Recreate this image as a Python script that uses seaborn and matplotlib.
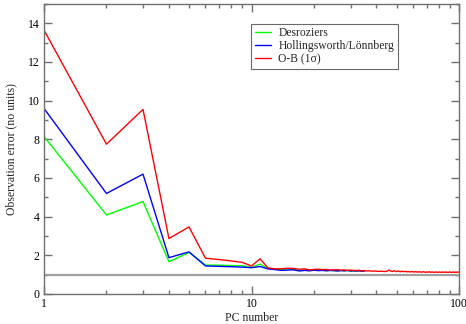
import numpy as np
import pandas as pd
import seaborn as sns
import matplotlib
matplotlib.use("Agg")
import matplotlib.pyplot as plt
from matplotlib.ticker import MultipleLocator, LogLocator, NullFormatter, FixedLocator, FixedFormatter

# Observation error estimates per principal component
ob_sigma = [13.65, 7.75, 9.55, 2.87, 3.47, 1.85, 1.78, 1.71, 1.64, 1.45,
            1.82, 1.35, 1.30, 1.31, 1.33, 1.32, 1.28, 1.30, 1.25, 1.27,
            1.28, 1.26, 1.27, 1.24, 1.25, 1.26, 1.23, 1.25, 1.22, 1.24,
            1.22, 1.21, 1.23, 1.20, 1.21, 1.19, 1.20, 1.18, 1.19, 1.18,
            1.17, 1.18, 1.17, 1.16, 1.18, 1.24, 1.18, 1.17, 1.20, 1.16,
            1.19, 1.15, 1.18, 1.16, 1.17, 1.15, 1.16, 1.14, 1.16, 1.15,
            1.14, 1.16, 1.13, 1.15, 1.14, 1.13, 1.15, 1.14, 1.12, 1.14,
            1.13, 1.15, 1.12, 1.14, 1.13, 1.12, 1.14, 1.13, 1.12, 1.14,
            1.13, 1.12, 1.14, 1.12, 1.13, 1.14, 1.12, 1.13, 1.12, 1.14,
            1.13, 1.12, 1.13, 1.14, 1.12, 1.13, 1.12, 1.14, 1.13, 1.13]
hollingsworth = [9.60, 5.20, 6.20, 1.88, 2.18, 1.45, 1.43, 1.41, 1.39, 1.36,
                 1.42, 1.30, 1.26, 1.22, 1.24, 1.25, 1.19, 1.22, 1.20, 1.23,
                 1.21, 1.22, 1.20, 1.22, 1.21, 1.19, 1.21, 1.20, 1.22, 1.19,
                 1.20, 1.19, 1.20, 1.18, 1.19]
desroziers = [8.15, 4.09, 4.78, 1.67, 2.15, 1.50, 1.49, 1.47, 1.46, 1.38,
              1.55, 1.31, 1.28, 1.27, 1.30, 1.26, 1.22, 1.24, 1.21, 1.23,
              1.22, 1.23, 1.21, 1.22, 1.21, 1.20, 1.22, 1.20, 1.21, 1.19,
              1.20, 1.19, 1.20, 1.18, 1.19]
series_names = ["Desroziers", "Hollingsworth/Lönnberg", "O-B (1\u03c3)"]
series_colors = ["#00ff00", "#0000ff", "#ff0000"]
reference_level = 1.0

frames = []
for name, vals in zip(series_names, [desroziers, hollingsworth, ob_sigma]):
    frames.append(pd.DataFrame({"pc": np.arange(1, len(vals) + 1),
                                "error": vals, "series": name}))
df = pd.concat(frames, ignore_index=True)

sns.set_style("ticks")
plt.rcParams["font.family"] = ["Liberation Serif", "DejaVu Serif"]

fig = plt.figure(figsize=(4.66, 3.24), dpi=100)
ax = fig.add_axes([44 / 466, 1 - 294 / 324, (459 - 44) / 466, (294 - 4) / 324])

ax.axhline(reference_level, color="#a0a0a0", lw=1.6, zorder=1)
sns.lineplot(data=df, x="pc", y="error", hue="series", hue_order=series_names,
             palette=dict(zip(series_names, series_colors)), lw=1.0, ax=ax,
             estimator=None, sort=False, zorder=2)

ax.set_xscale("log")
ax.set_xlim(1, 100)
ax.set_ylim(0, 15)
ax.xaxis.set_major_locator(FixedLocator([1, 10, 100]))
ax.xaxis.set_major_formatter(FixedFormatter(["1", "10", "100"]))
ax.xaxis.set_minor_locator(LogLocator(base=10, subs=np.arange(2, 10)))
ax.xaxis.set_minor_formatter(NullFormatter())
ax.yaxis.set_major_locator(FixedLocator([0, 2, 4, 6, 8, 10, 12, 14]))
ax.yaxis.set_minor_locator(MultipleLocator(1))

spine_col = "#707070"
for s in ax.spines.values():
    s.set_visible(True)
    s.set_color(spine_col)
    s.set_linewidth(1.0)
ax.tick_params(which="both", direction="in", top=True, right=True,
               color=spine_col, labelsize=8.5, labelcolor="black", pad=3)
ax.tick_params(which="major", length=6, width=1.0)
ax.tick_params(which="minor", length=3, width=1.0)

ax.set_xlabel("PC number", fontsize=8.5, labelpad=1)
ax.set_ylabel("Observation error (no units)", fontsize=8.5, labelpad=8)

leg = ax.legend(loc="upper left", bbox_to_anchor=((251 - 44) / 415, (294 - 24) / 290),
                frameon=True, fancybox=False, fontsize=8.4, handlelength=1.4,
                handletextpad=0.65, borderpad=0.3, labelspacing=0.08, borderaxespad=0)
leg.get_frame().set_edgecolor("#444444")
leg.get_frame().set_linewidth(0.8)
for h in leg.get_lines():
    h.set_linewidth(1.0)

fig.savefig("out.png", dpi=100)
